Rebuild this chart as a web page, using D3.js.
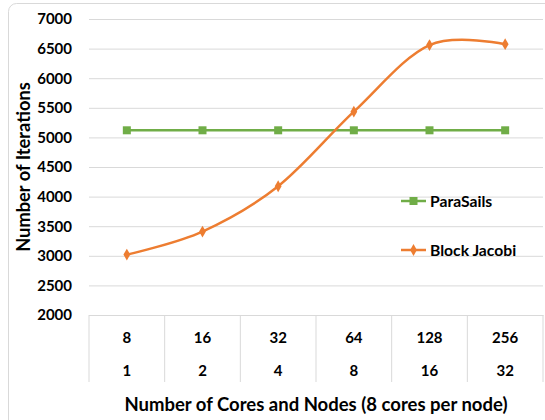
<!DOCTYPE html>
<html>
<head>
<meta charset="utf-8">
<script src="https://cdn.jsdelivr.net/npm/d3@7"></script>
<style>
  body { margin: 0; background: #fff; }
  text { font-family: Lato, "Open Sans", sans-serif; font-weight: bold; fill: #000; }
</style>
</head>
<body>
<script>
var cores = ['8', '16', '32', '64', '128', '256'];
var nodes = ['1', '2', '4', '8', '16', '32'];
var paraSails = [5120, 5120, 5120, 5120, 5120, 5120];
var blockJacobi = [3020, 3410, 4175, 5435, 6560, 6575];
var yTicks = [2000, 2500, 3000, 3500, 4000, 4500, 5000, 5500, 6000, 6500, 7000];

var margin = {top: 19, right: 2, bottom: 105, left: 89},
    W = 545, H = 420,
    width = W - margin.left - margin.right,
    height = H - margin.top - margin.bottom;

var svg = d3.select('body').append('svg')
  .attr('width', W)
  .attr('height', H);

svg.append('rect')
  .attr('x', 8.5).attr('y', 3.5)
  .attr('width', 560).attr('height', 430)
  .attr('rx', 8)
  .attr('fill', '#fff')
  .attr('stroke', '#d9d9d9');

var g = svg.append('g')
  .attr('transform', 'translate(' + margin.left + ',' + margin.top + ')');

var x = d3.scaleBand().domain(cores).range([0, width]);
var y = d3.scaleLinear().domain([2000, 7000]).range([height, 0]);

// gridlines + y labels
var yAxis = g.append('g')
  .call(d3.axisLeft(y).tickValues(yTicks).tickSize(-width).tickPadding(17).tickFormat(d3.format('d')));
yAxis.select('.domain').remove();
yAxis.selectAll('.tick line').attr('stroke', '#d9d9d9');
yAxis.selectAll('.tick text').style('font-size', '15px');

// x axis: two-level categories
var xAxis = g.append('g')
  .attr('transform', 'translate(0,' + height + ')')
  .call(d3.axisBottom(x).tickSize(0).tickPadding(17));
xAxis.select('.domain').attr('stroke', '#d9d9d9');
xAxis.selectAll('.tick text').style('font-size', '15px');

xAxis.selectAll('.node-label')
  .data(nodes)
  .enter().append('text')
  .attr('class', 'node-label')
  .attr('x', function(d, i) { return x(cores[i]) + x.bandwidth() / 2; })
  .attr('y', 61)
  .attr('text-anchor', 'middle')
  .style('font-size', '15px')
  .text(function(d) { return d; });

var bounds = cores.map(function(c) { return x(c); }).concat([width]);
xAxis.selectAll('.sep')
  .data(bounds)
  .enter().append('line')
  .attr('class', 'sep')
  .attr('x1', function(d) { return d; })
  .attr('x2', function(d) { return d; })
  .attr('y1', 0)
  .attr('y2', 67)
  .attr('stroke', '#d9d9d9');

// series
var cx = function(d, i) { return x(cores[i]) + x.bandwidth() / 2; };

var line = d3.line()
  .x(cx)
  .y(function(d) { return y(d); })
  .curve(d3.curveCardinal.tension(0));

g.append('path')
  .datum(paraSails)
  .attr('fill', 'none')
  .attr('stroke', '#70ad47')
  .attr('stroke-width', 2.5)
  .attr('d', d3.line().x(cx).y(function(d) { return y(d); }));

g.selectAll('.ps')
  .data(paraSails)
  .enter().append('rect')
  .attr('class', 'ps')
  .attr('x', function(d, i) { return cx(d, i) - 4; })
  .attr('y', function(d) { return y(d) - 4; })
  .attr('width', 8).attr('height', 8)
  .attr('fill', '#70ad47');

g.append('path')
  .datum(blockJacobi)
  .attr('fill', 'none')
  .attr('stroke', '#ed7d31')
  .attr('stroke-width', 2.5)
  .attr('d', line);

var diamond = d3.symbol().type(d3.symbolDiamond).size(40);
g.selectAll('.bj')
  .data(blockJacobi)
  .enter().append('path')
  .attr('class', 'bj')
  .attr('d', diamond)
  .attr('transform', function(d, i) { return 'translate(' + cx(d, i) + ',' + y(d) + ')'; })
  .attr('fill', '#ed7d31');

// legend
var legendItems = [
  {name: 'ParaSails', color: '#70ad47', shape: 'square', y: 201},
  {name: 'Block Jacobi', color: '#ed7d31', shape: 'diamond', y: 250}
];
var legend = svg.append('g');
legendItems.forEach(function(it) {
  var lg = legend.append('g').attr('transform', 'translate(401,' + it.y + ')');
  lg.append('line')
    .attr('x1', 0).attr('x2', 25)
    .attr('stroke', it.color).attr('stroke-width', 2.5);
  if (it.shape === 'square') {
    lg.append('rect').attr('x', 8.5).attr('y', -4).attr('width', 8).attr('height', 8).attr('fill', it.color);
  } else {
    lg.append('path').attr('d', diamond).attr('transform', 'translate(12.5,0)').attr('fill', it.color);
  }
  lg.append('text')
    .attr('x', 29).attr('y', 5.5)
    .style('font-size', '15.7px')
    .text(it.name);
});

// axis titles
svg.append('text')
  .attr('x', 316)
  .attr('y', 411)
  .attr('text-anchor', 'middle')
  .style('font-size', '18.5px')
  .text('Number of Cores and Nodes (8 cores per node)');

svg.append('text')
  .attr('transform', 'translate(30,167) rotate(-90)')
  .attr('text-anchor', 'middle')
  .style('font-size', '18.3px')
  .text('Number of Iterations');
</script>
</body>
</html>
